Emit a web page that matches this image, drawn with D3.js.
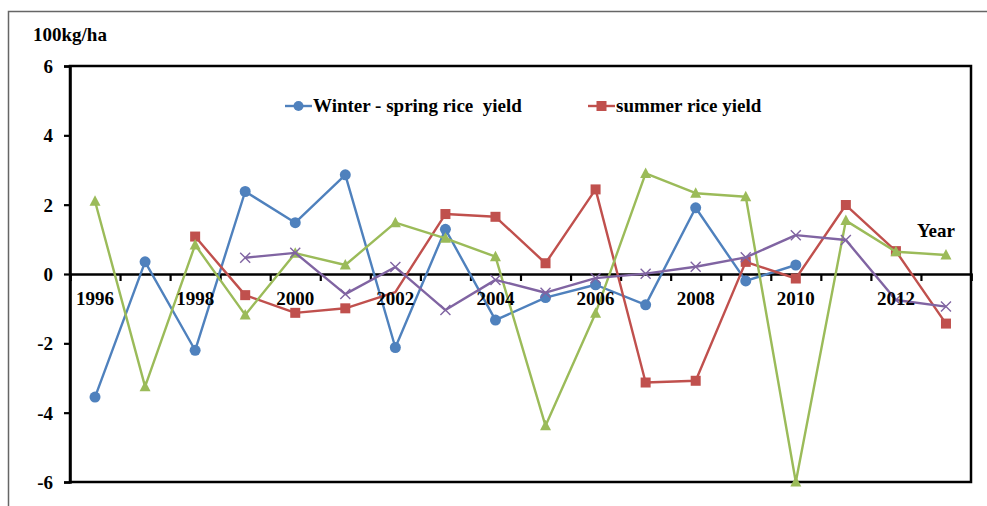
<!DOCTYPE html>
<html>
<head>
<meta charset="utf-8">
<script src="https://cdn.jsdelivr.net/npm/d3@7"></script>
<style>
  html, body { margin: 0; padding: 0; background: #fff; }
  svg { display: block; }
  text { font-family: "Liberation Serif", "Times New Roman", serif; font-weight: bold; fill: #000; }
</style>
</head>
<body>
<svg id="chart" width="987" height="506"></svg>
<script>
const years = [1996,1997,1998,1999,2000,2001,2002,2003,2004,2005,2006,2007,2008,2009,2010,2011,2012,2013];
const labelYears = [1996,1998,2000,2002,2004,2006,2008,2010,2012];
const yTicks = [-6,-4,-2,0,2,4,6];
const winterSpring = [-3.55, 0.35, -2.2, 2.38, 1.48, 2.86, -2.12, 1.29, -1.33, -0.68, -0.31, -0.89, 1.91, -0.2, 0.26, null, null, null];
const summer = [null, null, 1.08, -0.61, -1.12, -0.99, -0.52, 1.73, 1.65, 0.31, 2.44, -3.13, -3.08, 0.35, -0.13, 1.99, 0.66, -1.43];
const seriesGreen = [2.1, -3.25, 0.84, -1.18, 0.6, 0.26, 1.48, 1.03, 0.5, -4.38, -1.13, 2.9, 2.33, 2.23, -6.0, 1.54, 0.64, 0.55];
const seriesPurple = [null, null, null, 0.47, 0.61, -0.58, 0.2, -1.04, -0.17, -0.54, -0.12, 0.01, 0.21, 0.48, 1.12, 0.98, -0.75, -0.94];
const legendNames = ["Winter - spring rice  yield", "summer rice yield"];

const series = [
  {values: winterSpring, color: "#4F81BD", marker: "circle"},
  {values: summer, color: "#C0504D", marker: "square", hide: [6]},
  {values: seriesGreen, color: "#9BBB59", marker: "triangle"},
  {values: seriesPurple, color: "#8064A2", marker: "x"}
];

const FS = 19;
const svg = d3.select("#chart");
const L = 70, R = 971, T = 66, B = 482;

// outer frame
svg.append("rect").attr("x", 8.5).attr("y", 11.5).attr("width", 1000).attr("height", 520)
  .attr("fill", "none").attr("stroke", "#666").attr("stroke-width", 1.5);

const x = d3.scaleBand().domain(years).range([L, R]).padding(0);
const xIdx = d3.scaleLinear().domain([0, years.length]).range([L, R]);
const y = d3.scaleLinear().domain([-6, 6]).range([B, T]);
const cx = d => x(d) + x.bandwidth() / 2;

// plot area border
svg.append("rect").attr("x", L).attr("y", T).attr("width", R - L).attr("height", B - T)
  .attr("fill", "none").attr("stroke", "#000").attr("stroke-width", 2.5);

// y axis
const yAxis = svg.append("g").attr("transform", `translate(${L},0)`)
  .call(d3.axisLeft(y).tickValues(yTicks).tickSize(6).tickPadding(11).tickFormat(d => String(d)));
yAxis.select(".domain").attr("stroke", "#000").attr("stroke-width", 2.5);
yAxis.selectAll(".tick line").attr("stroke", "#000").attr("stroke-width", 2.2);
yAxis.selectAll("text").attr("font-size", FS).style("font-family", "Liberation Serif").style("font-weight", "bold").attr("dy", "0.35em");

// x axis at zero: boundary ticks
const xTickAxis = svg.append("g").attr("transform", `translate(0,${y(0)})`)
  .call(d3.axisBottom(xIdx).tickValues(d3.range(years.length + 1)).tickSize(7).tickFormat(""));
xTickAxis.select(".domain").attr("stroke", "#000").attr("stroke-width", 2.5);
xTickAxis.selectAll(".tick line").attr("stroke", "#000").attr("stroke-width", 2.2);

// series lines & markers
const line = d3.line().defined(d => d.v !== null).x(d => cx(d.year)).y(d => y(d.v));
series.forEach(s => {
  const pts = years.map((yr, i) => ({year: yr, v: s.values[i], i}));
  svg.append("path").datum(pts).attr("d", line)
    .attr("fill", "none").attr("stroke", s.color).attr("stroke-width", 2.4).attr("stroke-linejoin", "round");
  const g = svg.append("g");
  pts.filter(p => p.v !== null && !(s.hide || []).includes(p.i)).forEach(p => {
    const px = cx(p.year), py = y(p.v);
    if (s.marker === "circle") {
      g.append("circle").attr("cx", px).attr("cy", py).attr("r", 5.5).attr("fill", s.color);
    } else if (s.marker === "square") {
      g.append("rect").attr("x", px - 5).attr("y", py - 5).attr("width", 10).attr("height", 10).attr("fill", s.color);
    } else if (s.marker === "triangle") {
      g.append("path").attr("d", `M${px},${py - 6}L${px + 5.5},${py + 4.5}L${px - 5.5},${py + 4.5}Z`).attr("fill", s.color);
    } else {
      g.append("path").attr("d", `M${px - 5},${py - 5}L${px + 5},${py + 5}M${px - 5},${py + 5}L${px + 5},${py - 5}`)
        .attr("stroke", s.color).attr("stroke-width", 1.4);
    }
  });
});

// x labels
const xLab = svg.append("g").attr("transform", `translate(0,${y(0)})`)
  .call(d3.axisBottom(x).tickValues(labelYears).tickSize(0).tickPadding(18));
xLab.select(".domain").remove();
xLab.selectAll("text").attr("font-size", FS).style("font-family", "Liberation Serif").style("font-weight", "bold");

// axis titles
svg.append("text").attr("x", 33).attr("y", 41).attr("font-size", FS).text("100kg/ha");
svg.append("text").attr("x", 917).attr("y", 237).attr("font-size", FS).text("Year");

// legend
const legendX = [285, 588];
const legendMarkers = ["circle", "square"];
legendNames.forEach((name, i) => {
  const lx = legendX[i], ly = 106, col = series[i].color;
  svg.append("line").attr("x1", lx).attr("x2", lx + 27).attr("y1", ly).attr("y2", ly)
    .attr("stroke", col).attr("stroke-width", 2.4);
  if (legendMarkers[i] === "circle") {
    svg.append("circle").attr("cx", lx + 13.5).attr("cy", ly).attr("r", 5).attr("fill", col);
  } else {
    svg.append("rect").attr("x", lx + 8.5).attr("y", ly - 5).attr("width", 10).attr("height", 10).attr("fill", col);
  }
  svg.append("text").attr("x", lx + 28).attr("y", ly + 6).attr("font-size", FS).style("white-space", "pre").text(name);
});
</script>
</body>
</html>
